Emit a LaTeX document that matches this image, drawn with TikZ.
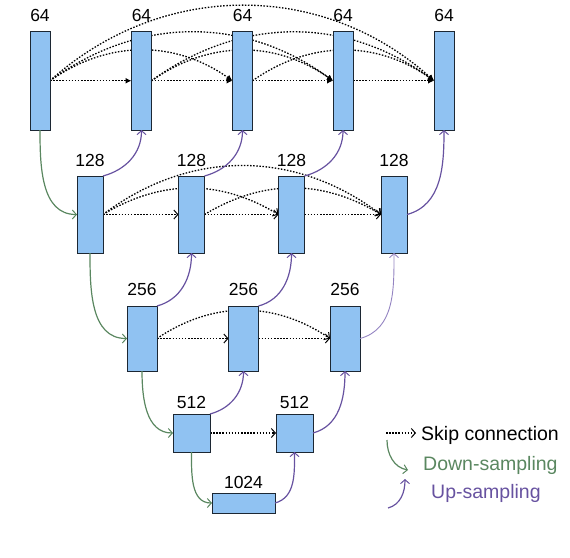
\documentclass[tikz,border=0pt]{standalone}
\usepackage{fontspec}
\setmainfont{Liberation Sans}
\usetikzlibrary{arrows.meta,backgrounds}
\definecolor{boxfill}{HTML}{90C2F2}
\definecolor{boxline}{HTML}{1C2733}
\definecolor{dgreen}{HTML}{5A8760}
\definecolor{upurple}{HTML}{6752A0}
\definecolor{lpurple}{HTML}{9484C2}
\begin{document}
\begin{tikzpicture}[x=1pt,y=1pt,
  box/.style={draw=boxline, fill=boxfill, line width=1pt, inner sep=0pt, outer sep=0pt},
  rowA/.style={box, minimum width=20pt, minimum height=98.5pt},
  rowB/.style={box, minimum width=26pt, minimum height=77pt},
  rowC/.style={box, minimum width=30pt, minimum height=65pt},
  rowD/.style={box, minimum width=37pt, minimum height=38pt},
  rowE/.style={box, minimum width=63pt, minimum height=20pt},
  lbl/.style={font=\fontsize{17.5}{19}\selectfont, inner sep=0pt, anchor=base},
  legtxt/.style={font=\fontsize{19.5}{22}\selectfont, inner sep=0pt, anchor=west},
  skipline/.style={line width=1.3pt, dash pattern=on 1.5pt off 1.6pt},
  skip/.style={skipline, -{Straight Barb[length=4pt,width=9pt,line width=1pt]}},
  skipf/.style={skipline, -{Latex[length=6pt,width=6pt]}},
  down/.style={dgreen, line width=1.2pt, -{Straight Barb[length=4pt,width=9pt,line width=1pt]}},
  up/.style={upurple, line width=1.2pt, -{Straight Barb[length=4pt,width=9pt,line width=1pt]}},
  uplight/.style={lpurple, line width=0.9pt, -{Straight Barb[length=4pt,width=9pt,line width=0.9pt]}}
]
\useasboundingbox (0,0) rectangle (570,-557);

% boxes
\node[rowA] (a0) at (40,-80.75) {};
\node[rowA] (a1) at (141.5,-80.75) {};
\node[rowA] (a2) at (242.5,-80.75) {};
\node[rowA] (a3) at (343,-80.75) {};
\node[rowA] (a4) at (444,-80.75) {};
\node[rowB] (b0) at (90,-214.5) {};
\node[rowB] (b1) at (191.5,-214.5) {};
\node[rowB] (b2) at (291.5,-214.5) {};
\node[rowB] (b3) at (394,-214.5) {};
\node[rowC] (c0) at (142,-338.5) {};
\node[rowC] (c1) at (243.5,-338.5) {};
\node[rowC] (c2) at (345,-338.5) {};
\node[rowD] (d0) at (191.5,-433) {};
\node[rowD] (d1) at (294.5,-433) {};
\node[rowE] (e0) at (243.5,-503) {};

% labels
\node[lbl] (la0) at (40,-21) {64};
\node[lbl] (la1) at (141.5,-21) {64};
\node[lbl] (la2) at (242.5,-21) {64};
\node[lbl] (la3) at (343,-21) {64};
\node[lbl] (la4) at (444,-21) {64};
\node[lbl] (lb0) at (90,-166) {128};
\node[lbl] (lb1) at (191.5,-166) {128};
\node[lbl] (lb2) at (291.5,-166) {128};
\node[lbl] (lb3) at (394,-166) {128};
\node[lbl] (lc0) at (142,-295) {256};
\node[lbl] (lc1) at (243.5,-295) {256};
\node[lbl] (lc2) at (345,-295) {256};
\node[lbl] (ld0) at (191.5,-408.3) {512};
\node[lbl] (ld1) at (294.5,-408.3) {512};
\node[lbl] (le0) at (243.5,-488.3) {1024};

\begin{scope}[on background layer]
% row 0 skips
\draw[skipf] (a0.east) -- (a1.west);
\draw[skipf] (a0.east) to[bend left=35] (a2.west);
\draw[skipf] (a0.east) to[bend left=36] (a3.west);
\draw[skipf] (a0.east) to[bend left=42] (a4.west);
\draw[skipf] (a1.east) -- (a2.west);
\draw[skipf] (a1.east) to[bend left=35] (a3.west);
\draw[skipf] (a1.east) to[bend left=36] (a4.west);
\draw[skipf] (a2.east) -- (a3.west);
\draw[skipf] (a2.east) to[bend left=35] (a4.west);
\draw[skipf] (a3.east) -- (a4.west);
% row 1 skips
\draw[skip] (b0.east) -- (b1.west);
\draw[skip] (b0.east) to[bend left=31] (b2.west);
\draw[skip] (b0.east) to[bend left=37] (b3.west);
\draw[skip] (b1.east) -- (b2.west);
\draw[skip] (b1.east) to[bend left=31] (b3.west);
\draw[skip] (b2.east) -- (b3.west);
% row 2 skips
\draw[skip] (c0.east) -- (c1.west);
\draw[skip] (c0.east) to[bend left=34] (c2.west);
\draw[skip] (c1.east) -- (c2.west);
% row 3 skip
\draw[skip] (d0.east) -- (d1.west);
\end{scope}

% down-sampling
\draw[down] (a0.south) to[out=-90,in=180] (b0.west);
\draw[down] (b0.south) to[out=-90,in=180] (c0.west);
\draw[down] (c0.south) to[out=-90,in=180] (d0.west);
\draw[down] (d0.south) to[out=-90,in=180] (e0.west);

% up-sampling
\draw[up] (b0.north east) to[out=15,in=-90] (a1.south);
\draw[up] (b1.north east) to[out=15,in=-90] (a2.south);
\draw[up] (b2.north east) to[out=15,in=-90] (a3.south);
\draw[up] (b3.east) to[out=15,in=-90] (a4.south);
\draw[up] (c0.north east) to[out=15,in=-90] (b1.south);
\draw[up] (c1.north east) to[out=15,in=-90] (b2.south);
\draw[uplight] (c2.east) to[out=15,in=-90] (b3.south);
\draw[up] (d0.north east) to[out=15,in=-90] (c1.south);
\draw[up] (d1.east) to[out=15,in=-90] (c2.south);
\draw[up] (e0.east) to[out=15,in=-90] (d1.south);

% legend
\coordinate (ls1) at (386,-433);
\coordinate (le1) at (416,-433);
\draw[skip] (ls1) -- (le1);
\node[legtxt] (t1) at (421,-435) {Skip connection};
\coordinate (ls2) at (387,-440);
\coordinate (le2) at (408,-470);
\draw[down] (ls2) to[out=-90,in=170] (le2);
\node[legtxt, text=dgreen] (t2) at (423,-465) {Down-sampling};
\coordinate (ls3) at (388,-508);
\coordinate (le3) at (405,-479);
\draw[up] (ls3) to[out=15,in=-90] (le3);
\node[legtxt, text=upurple] (t3) at (431,-493) {Up-sampling};
\end{tikzpicture}
\end{document}
